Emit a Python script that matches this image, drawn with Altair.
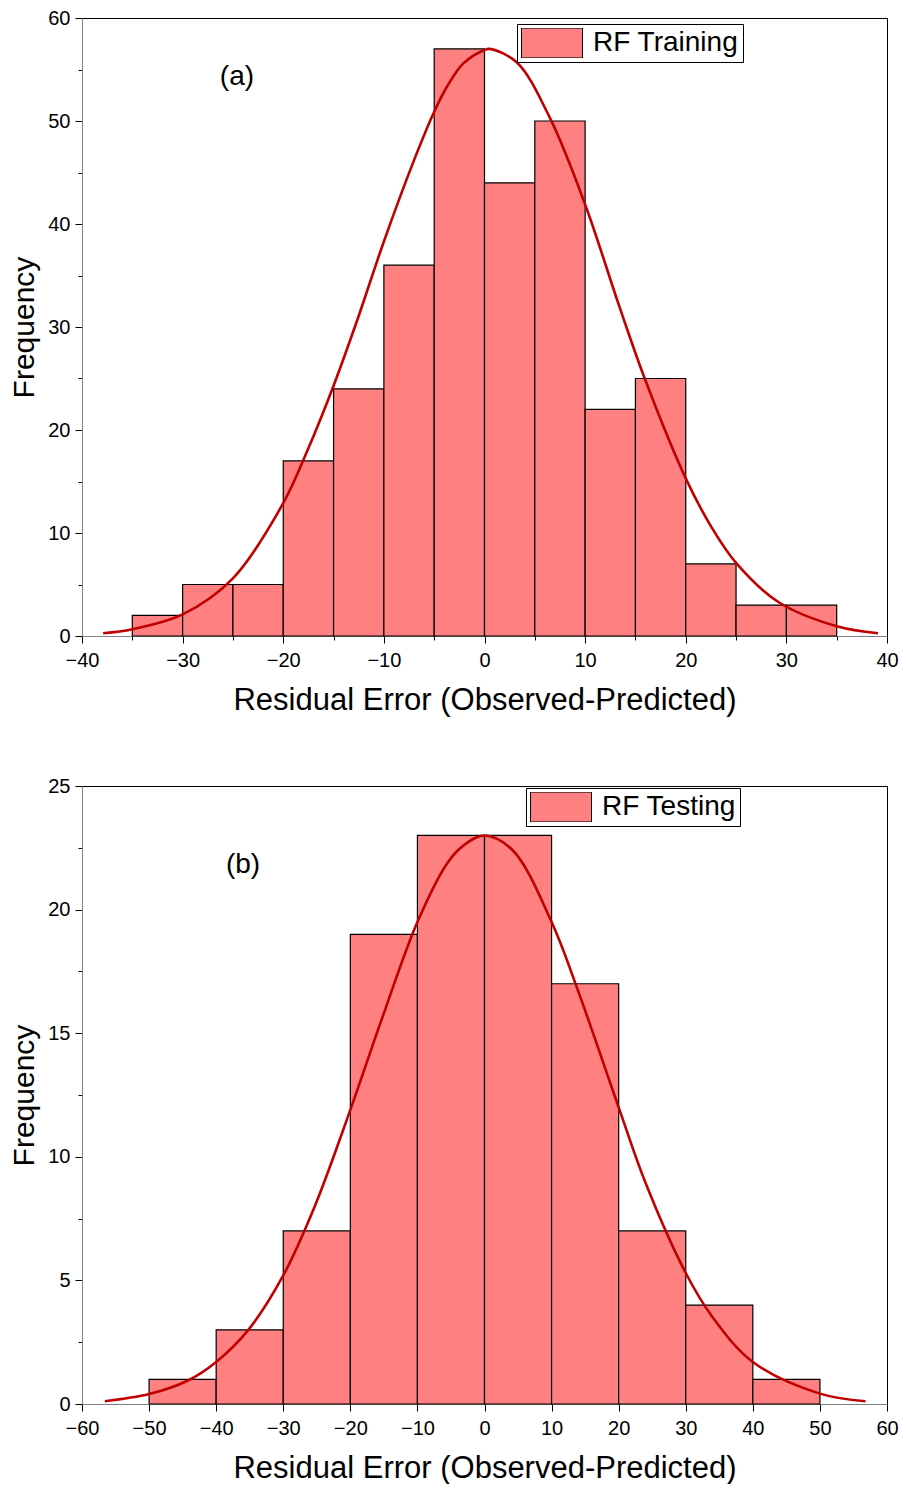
import altair as alt
import pandas as pd

FONT = "Liberation Sans"
BAR_FILL = "#FF8080"
CURVE_COLOR = "#C00000"

# ---------------- Panel (a): RF Training ----------------
train_series = "RF Training"
train_bin_start = [-35, -30, -25, -20, -15, -10, -5, 0, 5, 10, 15, 20, 25, 30]
train_bin_end = [-30, -25, -20, -15, -10, -5, 0, 5, 10, 15, 20, 25, 30, 35]
train_counts = [2, 5, 5, 17, 24, 36, 57, 44, 50, 22, 25, 7, 3, 3]
train_curve_x = [-37.9, -35, -30, -25, -20, -17.6, -15, -12.6, -10, -7, -5, -3.75, -2.1,
                 0, 0.5, 3.2, 6.5, 10, 13.4, 16, 20, 22.6, 25, 29.2, 35, 39.1]
train_curve_y = [0.27, 0.66, 2.1, 5.6, 12.9, 18.0, 24.3, 30.8, 38.3, 46.2, 50.9, 53.3, 55.6,
                 56.9, 57.0, 55.7, 50.3, 41.9, 32.0, 24.8, 15.3, 10.5, 7.1, 3.3, 0.95, 0.27]
train_x_major = [-40, -30, -20, -10, 0, 10, 20, 30, 40]
train_x_minor = [-35, -25, -15, -5, 5, 15, 25, 35]
train_y_major = [0, 10, 20, 30, 40, 50, 60]
train_y_minor = [5, 15, 25, 35, 45, 55]
train_label = ["(a)"]
train_label_x = [-24.6]
train_label_y = [54.3]

# ---------------- Panel (b): RF Testing ----------------
test_series = "RF Testing"
test_bin_start = [-50, -40, -30, -20, -10, 0, 10, 20, 30, 40]
test_bin_end = [-40, -30, -20, -10, 0, 10, 20, 30, 40, 50]
test_counts = [1, 3, 7, 19, 23, 23, 17, 7, 4, 1]
test_curve_x = [-56.6, -50, -44.2, -40, -35.2, -30, -25.3, -20, -15.4, -10, -5.5, -3.1,
                0, 4.2, 10, 14.1, 20, 24, 30, 33.9, 40, 50, 56.8]
test_curve_y = [0.11, 0.4, 0.95, 1.7, 3.0, 5.2, 8.0, 11.9, 15.5, 19.5, 21.9, 22.6,
                23.0, 22.4, 19.5, 16.6, 12.0, 8.95, 5.3, 3.55, 1.7, 0.42, 0.11]
test_x_major = [-60, -50, -40, -30, -20, -10, 0, 10, 20, 30, 40, 50, 60]
test_x_minor = [-55, -45, -35, -25, -15, -5, 5, 15, 25, 35, 45, 55]
test_y_major = [0, 5, 10, 15, 20, 25]
test_y_minor = [2.5, 7.5, 12.5, 17.5, 22.5]
test_label = ["(b)"]
test_label_x = [-36.0]
test_label_y = [21.8]

W, H = 805, 618
LEGEND_SYMBOL = "M-1,-0.49L1,-0.49L1,0.49L-1,0.49Z"


def make_axis(title, major, minor, is_x):
    vals = sorted(major + minor)
    test = "indexof(" + str(major) + ", datum.value) >= 0"
    return alt.Axis(
        title=title,
        values=vals,
        labelExpr=test + " ? datum.label : ''",
        tickSize={"condition": {"test": test, "value": 7}, "value": 4},
        tickColor="black",
        tickWidth=1,
        domainColor="#808080",
        domainWidth=1,
        labelFont=FONT,
        labelFontSize=20,
        labelColor="black",
        labelPadding=7 if is_x else 5,
        labelFlush=False,
        labelOverlap=False,
        titleFont=FONT,
        titleFontSize=31 if is_x else 30,
        titleFontWeight="normal",
        titleColor="black",
        titlePadding=15.5 if is_x else 8,
        grid=False,
    )


def panel(series, starts, ends, counts, cx, cy, xmaj, xmin, ymaj, ymin,
          lab, lab_x, lab_y, leg_x, leg_y):
    bars_df = pd.DataFrame({"start": starts, "end": ends, "count": counts,
                            "base": [0] * len(counts),
                            "series": [series] * len(counts)})
    curve_df = pd.DataFrame({"x": cx, "y": cy})
    lab_df = pd.DataFrame({"t": lab, "x": lab_x, "y": lab_y})

    xscale = alt.Scale(domain=[xmaj[0], xmaj[-1]], nice=False, zero=False)
    yscale = alt.Scale(domain=[ymaj[0], ymaj[-1]], nice=False)
    xaxis = make_axis("Residual Error (Observed-Predicted)", xmaj, xmin, True)
    yaxis = make_axis("Frequency", ymaj, ymin, False)

    bars = alt.Chart(bars_df).mark_rect(stroke="black", strokeWidth=1.2, opacity=1).encode(
        x=alt.X("start:Q", scale=xscale, axis=xaxis),
        x2="end:Q",
        y=alt.Y("count:Q", scale=yscale, axis=yaxis),
        y2="base:Q",
        color=alt.Color(
            "series:N",
            scale=alt.Scale(domain=[series], range=[BAR_FILL]),
            legend=alt.Legend(
                title=None, orient="none", legendX=leg_x, legendY=leg_y,
                symbolType=LEGEND_SYMBOL, symbolSize=3721,
                symbolStrokeColor="black", symbolStrokeWidth=1, symbolOpacity=1,
                labelFont=FONT, labelFontSize=28, labelColor="black",
                labelOffset=10, padding=4, clipHeight=30,
                strokeColor="black", fillColor="white",
            ),
        ),
    )
    curve = alt.Chart(curve_df).mark_line(
        color=CURVE_COLOR, strokeWidth=2.6, interpolate="catmull-rom"
    ).encode(x="x:Q", y="y:Q")
    text = alt.Chart(lab_df).mark_text(
        font=FONT, fontSize=28, color="black"
    ).encode(x="x:Q", y="y:Q", text="t:N")
    return alt.layer(bars, curve, text).properties(width=W, height=H)


top = panel(train_series, train_bin_start, train_bin_end, train_counts,
            train_curve_x, train_curve_y, train_x_major, train_x_minor,
            train_y_major, train_y_minor, train_label, train_label_x, train_label_y,
            435, 6)
bottom = panel(test_series, test_bin_start, test_bin_end, test_counts,
               test_curve_x, test_curve_y, test_x_major, test_x_minor,
               test_y_major, test_y_minor, test_label, test_label_x, test_label_y,
               444, 2)

chart = alt.vconcat(top, bottom, spacing=59).resolve_scale(
    color="independent"
).properties(
    padding={"left": 1, "top": -1, "right": 0, "bottom": 0},
    background="white",
).configure_view(
    stroke="black", strokeWidth=1
)

chart.save("out.html", embed_options={"renderer": "svg", "actions": False})
